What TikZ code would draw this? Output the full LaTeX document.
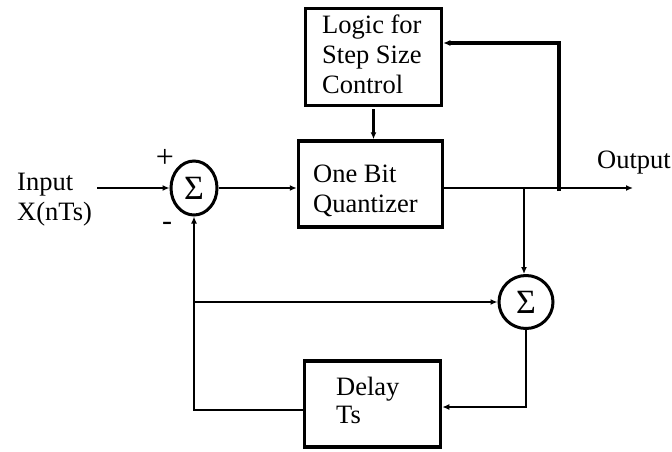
\documentclass[tikz,border=0pt]{standalone}
\usepackage{fontspec}
\setmainfont{Liberation Serif}
\usetikzlibrary{arrows.meta,shapes.geometric}
\begin{document}
\begin{tikzpicture}[x=1pt,y=-1pt,
  blk/.style={draw,line width=3.5pt,inner sep=0pt},
  sumnode/.style={draw,ellipse,line width=3pt,inner sep=0pt,font=\fontsize{34}{34}\selectfont},
  lbl/.style={anchor=base west,inner sep=0pt,font=\fontsize{26.5}{30}\selectfont},
  wire/.style={line width=2.5pt},
  arr/.style={wire,-{Latex[length=7pt,width=6pt]}},
  fbwire/.style={line width=3.5pt,-{Latex[length=7pt,width=6pt]}}]
\useasboundingbox (0,0) rectangle (672,451);
\fill[white] (0,0) rectangle (672,451);

% blocks
\node[blk,minimum width=136pt,minimum height=97pt] (l) at (373.5,57) {};
\node[blk,minimum width=144pt,minimum height=86pt] (q) at (370.5,184) {};
\node[blk,minimum width=136pt,minimum height=86pt] (d) at (372.5,404) {};

% summers
\node[sumnode,minimum width=46pt,minimum height=54pt] (s1) at (194,188) {Σ};
\node[sumnode,minimum width=54pt,minimum height=53pt] (s2) at (526,302) {Σ};

% texts
\node[lbl] (lt1) at (322,33) {Logic for};
\node[lbl] (lt2) at (322,63) {Step Size};
\node[lbl] (lt3) at (322,93) {Control};
\node[lbl] (qt1) at (313,182) {One Bit};
\node[lbl] (qt2) at (313,212) {Quantizer};
\node[lbl] (dt1) at (336,395) {Delay};
\node[lbl] (dt2) at (336,423) {Ts};
\node[lbl] (it1) at (17,190) {Input};
\node[lbl] (it2) at (17,220) {X(nTs)};
\node[lbl] (ot) at (597,168) {Output};
\node[lbl,anchor=center,font=\fontsize{32}{32}\selectfont] (plus) at (165,158) {+};
\node[lbl,anchor=center,font=\fontsize{30}{30}\selectfont] (minus) at (167,226) {-};

% coordinates
\coordinate (in) at (97,188);
\coordinate (out) at (633,188);
\coordinate (fb) at (559,191);
\coordinate (fbt) at (559,43);
\coordinate (br) at (524,188);
\coordinate (mj) at (194,302);
\coordinate (dl) at (194,410);
\coordinate (dr) at (526,407);

% connectors
\draw[arr] (in) -- (s1.west);
\draw[arr] (s1.east) -- (s1.east -| q.west);
\draw[arr] (l.south |- 0,109) -- (l.south |- q.north);
\draw[arr] (q.east |- out) -- (out);
\draw[fbwire] (fb) -- (fbt) -- (fbt -| l.east);
\draw[arr] (br) -- (br |- s2.north);
\draw[arr] (mj) -- (mj -| s2.west);
\draw[arr] (s2.south) -- (dr) -- (dr -| d.east);
\draw[arr] (d.west |- dl) -- (dl) -- (s1.south);
\end{tikzpicture}
\end{document}
